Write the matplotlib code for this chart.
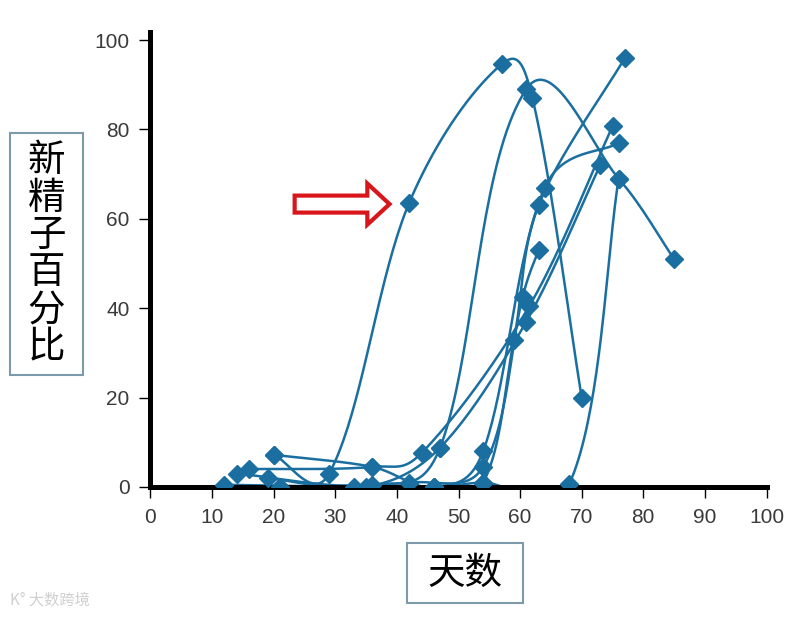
import numpy as np
import matplotlib
matplotlib.use('Agg')
from matplotlib import pyplot as plt
from matplotlib.patches import FancyArrow, Rectangle

plt.rcParams['font.family'] = ['Noto Sans CJK SC', 'DejaVu Sans']

# one list pair per sample (day, percent of new sperm)
s1_x = [20, 29, 42, 57, 62, 70]
s1_y = [7.2, 3, 63.6, 94.6, 87, 20]
s2_x = [14, 36, 47, 61, 76, 85]
s2_y = [3, 0.5, 8.8, 89, 69, 51]
s3_x = [12, 33, 46, 54, 59, 63, 77]
s3_y = [0.5, 0, 0, 1, 33, 63, 96]
s4_x = [16, 36, 44, 61.5, 75]
s4_y = [4, 4.5, 7.6, 40.5, 80.7]
s5_x = [19, 35, 47, 61, 73]
s5_y = [2, 0, 8.8, 37, 72]
s6_x = [21, 42, 54, 60.4, 63]
s6_y = [0, 1, 4.5, 42.5, 53]
s7_x = [20, 36, 46, 54, 64, 76]
s7_y = [7.2, 4.5, 0, 8, 67, 77]
s8_x = [21, 46, 54, 68, 76]
s8_y = [0, 0, 1, 0.7, 69]

series = [(s1_x, s1_y), (s2_x, s2_y), (s3_x, s3_y), (s4_x, s4_y),
          (s5_x, s5_y), (s6_x, s6_y), (s7_x, s7_y), (s8_x, s8_y)]

x_ticks = list(range(0, 101, 10))
y_ticks = list(range(0, 101, 20))

BLUE = '#1a6fa0'
SX, SY = 6.16, 4.47   # pixels per unit, so the smoothing is done in screen space


def smooth(xs, ys, n=40):
    # smoothed line like Excel: bezier whose handles follow the neighbours;
    # handle length is a mix of catmull-rom and segment length (less overshoot)
    p = np.column_stack([np.array(xs) * SX, np.array(ys) * SY])
    pts = np.vstack([p[0], p, p[-1]])
    out = []
    t = np.linspace(0, 1, n)[:, None]
    for i in range(1, len(pts) - 2):
        p0, p1, p2, p3 = pts[i - 1:i + 3]
        L = np.linalg.norm(p2 - p1)
        a = p2 - p0
        b = p3 - p1
        c1 = p1 + a / np.linalg.norm(a) * 0.5 * (np.linalg.norm(a) / 6 + L / 3)
        c2 = p2 - b / np.linalg.norm(b) * 0.5 * (np.linalg.norm(b) / 6 + L / 3)
        seg = (1 - t) ** 3 * p1 + 3 * (1 - t) ** 2 * t * c1 + 3 * (1 - t) * t ** 2 * c2 + t ** 3 * p2
        out.append(seg)
    c = np.vstack(out)
    return c[:, 0] / SX, c[:, 1] / SY


fig = plt.figure(figsize=(8.1, 6.17), dpi=100)
ax = fig.add_axes([0.1858, 0.2107, 0.7605, 0.7374])

for xs, ys in series:
    cx, cy = smooth(xs, ys)
    ax.plot(cx, cy, color=BLUE, lw=1.8, solid_capstyle='round', zorder=2)
    ax.plot(xs, ys, linestyle='none', marker='D', markersize=9, color=BLUE, zorder=3)

ax.set_xlim(0, 100)
ax.set_ylim(0, 101.8)
ax.set_xticks(x_ticks)
ax.set_yticks(y_ticks)
ax.tick_params(axis='both', direction='out', length=8, width=1, colors='black',
               labelsize=15, labelcolor='#3a3a3a', pad=7)
for side in ['top', 'right']:
    ax.spines[side].set_visible(False)
ax.spines['left'].set_linewidth(3.6)
ax.spines['bottom'].set_linewidth(3.6)
for lab in ax.get_xticklabels() + ax.get_yticklabels():
    lab.set_family('Liberation Sans')

# boxed axis titles
EDGE = '#7d9aaa'
fig.add_artist(Rectangle((0.0123, 0.392), 0.0901, 0.392, transform=fig.transFigure,
                         fc='white', ec=EDGE, lw=1.5))
fig.text(0.0574, 0.588, '新\n精\n子\n百\n分\n比', fontsize=27, ha='center', va='center',
         linespacing=0.95)
fig.add_artist(Rectangle((0.5025, 0.0227), 0.1432, 0.0972, transform=fig.transFigure,
                         fc='white', ec=EDGE, lw=1.5))
fig.text(0.574, 0.071, '天数', fontsize=27, ha='center', va='center')

# red outlined arrow pointing at the early sample
ax.add_patch(FancyArrow(23.4, 63.3, 15.4, 0, width=3.8, head_width=9.2, head_length=3.6,
                        length_includes_head=True, fc='white', ec='#d8151b', lw=3, zorder=4))

# faint watermark
fig.text(0.012, 0.028, 'K° 大数跨境', fontsize=11, color='#d0d0d0', ha='left', va='center')

fig.savefig('out.png', dpi=100)
